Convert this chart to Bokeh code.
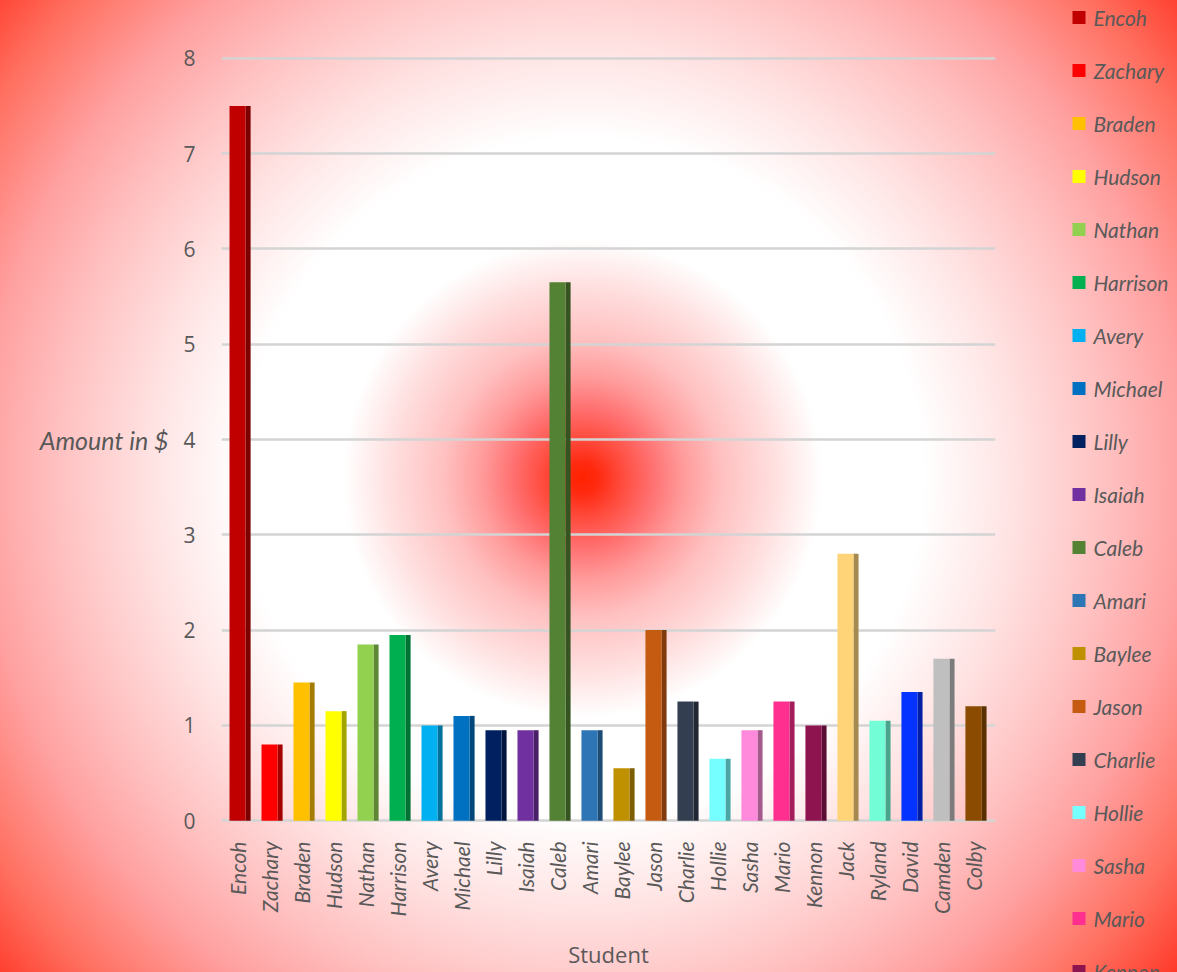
import numpy as np
from bokeh.plotting import figure
from bokeh.layouts import row
from bokeh.models import ColumnDataSource, Range1d, FixedTicker
from bokeh.transform import dodge
from bokeh.core.properties import value
from bokeh.embed import file_html
from bokeh.resources import INLINE

students = ["Encoh", "Zachary", "Braden", "Hudson", "Nathan", "Harrison", "Avery",
            "Michael", "Lilly", "Isaiah", "Caleb", "Amari", "Baylee", "Jason",
            "Charlie", "Hollie", "Sasha", "Mario", "Kennon", "Jack", "Ryland",
            "David", "Camden", "Colby"]
amounts = [7.5, 0.8, 1.45, 1.15, 1.85, 1.95, 1.0, 1.1, 0.95, 0.95, 5.65, 0.95,
           0.55, 2.0, 1.25, 0.65, 0.95, 1.25, 1.0, 2.8, 1.05, 1.35, 1.7, 1.2]
colors = ["#C00000", "#FF0000", "#FFC000", "#FFFF00", "#92D050", "#00B050", "#00B0F0",
          "#0070C0", "#002060", "#7030A0", "#548235", "#2E75B6", "#BF9000", "#C55A11",
          "#333F50", "#75FFFF", "#FF89DA", "#FF2F8F", "#8E1450", "#FFD479", "#73FDD6",
          "#0432FF", "#BFBFBF", "#8B4B00"]
y_ticks = [0, 1, 2, 3, 4, 5, 6, 7, 8]

TEXT = "#595959"


def darker(h, f=0.65):
    h = h.lstrip("#")
    r, g, b = (int(h[i:i + 2], 16) for i in (0, 2, 4))
    return "#%02x%02x%02x" % (int(r * f), int(g * f), int(b * f))


n = len(students)
idx = list(range(n))
src = ColumnDataSource(dict(idx=idx, neg=[-i for i in idx], name=students,
                            amount=amounts, color=colors,
                            side=[darker(c) for c in colors]))

# ---------------- main chart ----------------
p = figure(x_range=Range1d(-0.5, n - 0.31), y_range=Range1d(-0.05, 8.05),
           width=1040, height=972, output_backend="svg", toolbar_location=None,
           min_border_left=221, min_border_right=45, min_border_top=53,
           min_border_bottom=143)
p.frame_align = False
p.background_fill_alpha = 0
p.border_fill_alpha = 0
p.outline_line_color = None

p.ygrid.ticker = FixedTicker(ticks=y_ticks)
p.yaxis.ticker = FixedTicker(ticks=y_ticks)
p.ygrid.grid_line_color = "#D4D4D4"
p.ygrid.grid_line_width = 2.5
p.xgrid.grid_line_color = None

p.vbar(x=dodge("idx", 0.33), top="amount", width=0.16, source=src,
       fill_color="side", line_color=None)
p.vbar(x="idx", top="amount", width=0.5, source=src,
       fill_color="color", line_color=None)

for ax in (p.xaxis[0], p.yaxis[0]):
    ax.axis_line_color = None
    ax.major_tick_line_color = None
    ax.minor_tick_line_color = None

p.yaxis.major_label_text_font = "Open Sans"
p.yaxis.major_label_text_font_size = "21px"
p.yaxis.major_label_text_color = TEXT
p.yaxis.major_label_standoff = 20
p.yaxis.axis_label = "Amount in $"
p.yaxis.axis_label_orientation = "horizontal"
p.yaxis.axis_label_text_font = "Lato"
p.yaxis.axis_label_text_font_style = "italic"
p.yaxis.axis_label_text_font_size = "25px"
p.yaxis.axis_label_text_color = TEXT
p.yaxis.axis_label_standoff = 12

p.xaxis.ticker = FixedTicker(ticks=idx)
p.xaxis.major_label_overrides = {i: s for i, s in enumerate(students)}
p.xaxis.major_label_orientation = np.pi / 2
p.xaxis.major_label_text_font = "Lato"
p.xaxis.major_label_text_font_style = "italic"
p.xaxis.major_label_text_font_size = "21px"
p.xaxis.major_label_text_color = TEXT
p.xaxis.major_label_standoff = 10
p.xaxis.axis_label = "Student"
p.xaxis.axis_label_text_font = "Open Sans"
p.xaxis.axis_label_text_font_style = "normal"
p.xaxis.axis_label_text_font_size = "22px"
p.xaxis.axis_label_text_color = TEXT
p.xaxis.axis_label_standoff = 20

# ---------------- legend column ----------------
pitch = 53.0
top_px = 17.0
lw, lh = 137, 972
y_end = top_px / pitch
leg = figure(x_range=Range1d(0, lw), y_range=Range1d(y_end - lh / pitch, y_end),
             width=lw, height=lh, output_backend="svg", toolbar_location=None,
             x_axis_type=None, y_axis_type=None, min_border=0)
leg.frame_align = False
leg.background_fill_alpha = 0
leg.border_fill_alpha = 0
leg.outline_line_color = None
leg.grid.grid_line_color = None
leg.rect(x=38.5, y="neg", width=13, height=13, width_units="screen",
         height_units="screen", source=src, fill_color="color", line_color=None)
leg.text(x=53, y="neg", text="name", source=src, text_font=value("Lato"),
         text_font_style="italic", text_font_size="21px", text_color=TEXT,
         text_baseline="middle", text_align="left")

layout = row(p, leg)
layout.styles = {"background-image": "radial-gradient(circle farthest-corner at 49.5% 49.2%, "
                 "#ff2200 0%, #ff2a10 2%, #ff4a3c 5%, #ff7070 9%, #ff9a9a 13%, "
                 "#ffc0c0 18%, #ffe0e0 25%, #ffffff 31%, #ffffff 44%, #ffe2e2 56%, "
                 "#ffc0c0 68%, #ffa0a0 78%, #ff7060 90%, #ff3a2a 100%)"}

open("out.html", "w").write(file_html(layout, INLINE))
